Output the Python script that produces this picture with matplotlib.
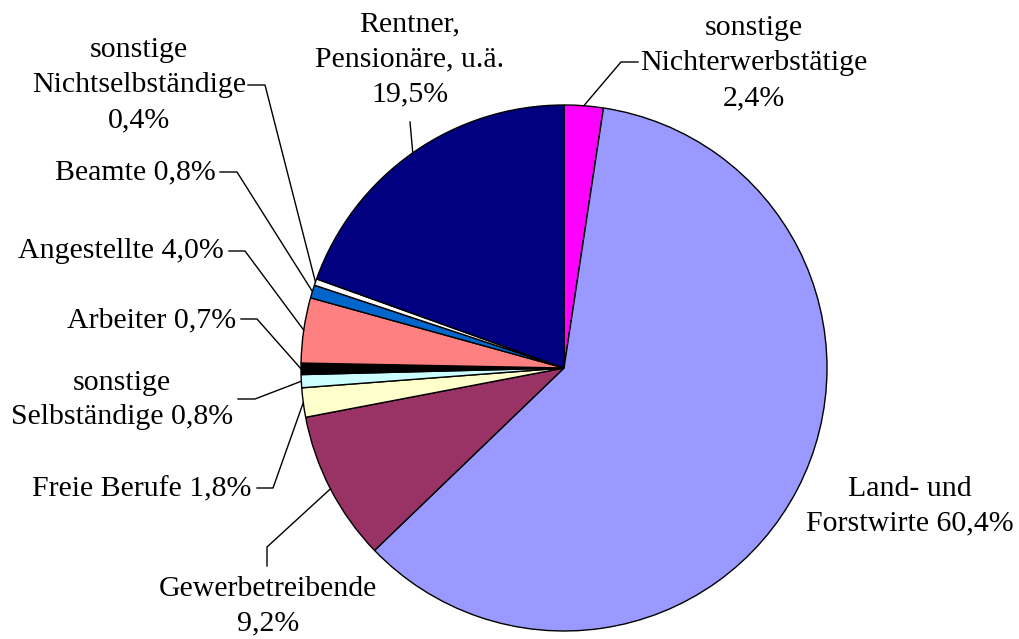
import numpy as np
import matplotlib.pyplot as plt

# shares in percent, clockwise from 12 o'clock
labels = ['sonstige\nNichterwerbstätige\n2,4%', 'Land- und\nForstwirte 60,4%',
          'Gewerbetreibende\n9,2%', 'Freie Berufe 1,8%', 'sonstige\nSelbständige 0,8%',
          'Arbeiter 0,7%', 'Angestellte 4,0%', 'Beamte 0,8%',
          'sonstige\nNichtselbständige\n0,4%', 'Rentner,\nPensionäre, u.ä.\n19,5%']
values = [2.4, 60.4, 9.2, 1.8, 0.8, 0.7, 4.0, 0.8, 0.4, 19.5]
colors = ['#FF00FF', '#9999FF', '#993366', '#FFFFCC', '#CCFFFF',
          '#000000', '#FF8080', '#0066CC', '#FFFFFF', '#000080']

W, H = 1020, 639
fig = plt.figure(figsize=(W / 100, H / 100), dpi=100)
ax = fig.add_axes([0, 0, 1, 1])

cx, cy, r = 564, H - 368, 263
wedges, _ = ax.pie(values, colors=colors, startangle=90, counterclock=False,
                   center=(cx, cy), radius=r, frame=True,
                   wedgeprops=dict(edgecolor='black', linewidth=1))
ax.set_xlim(0, W)
ax.set_ylim(0, H)
ax.set_aspect('equal')
ax.axis('off')

# text centre (px from top-left) and leader polyline start points
layout = [
    ((754, 63), [(638, 62), (621, 62)]),
    ((910, 506), None),
    ((268, 606), [(267, 566), (267, 547)]),
    ((142, 489), [(257, 488), (273, 488)]),
    ((122, 400), [(238, 399), (255, 399)]),
    ((152, 320), [(241, 319), (257, 319)]),
    ((121, 251), [(229, 251), (245, 251)]),
    ((135, 172), [(220, 172), (237, 172)]),
    ((139, 85), [(248, 85), (265, 85)]),
    ((410, 59), [(410, 122)]),
]

font = dict(family='Liberation Serif', fontsize=21.5)
for w, lab, (pos, lead) in zip(wedges, labels, layout):
    ax.text(pos[0], H - pos[1], lab, ha='center', va='center',
            linespacing=1.45, **font)
    if lead is None:
        continue
    mid = np.deg2rad((w.theta1 + w.theta2) / 2)
    px, py = cx + r * np.cos(mid), cy + r * np.sin(mid)
    xs = [p[0] for p in lead] + [px]
    ys = [H - p[1] for p in lead] + [py]
    ax.plot(xs, ys, color='black', linewidth=1)

plt.savefig('out.png', dpi=100)
